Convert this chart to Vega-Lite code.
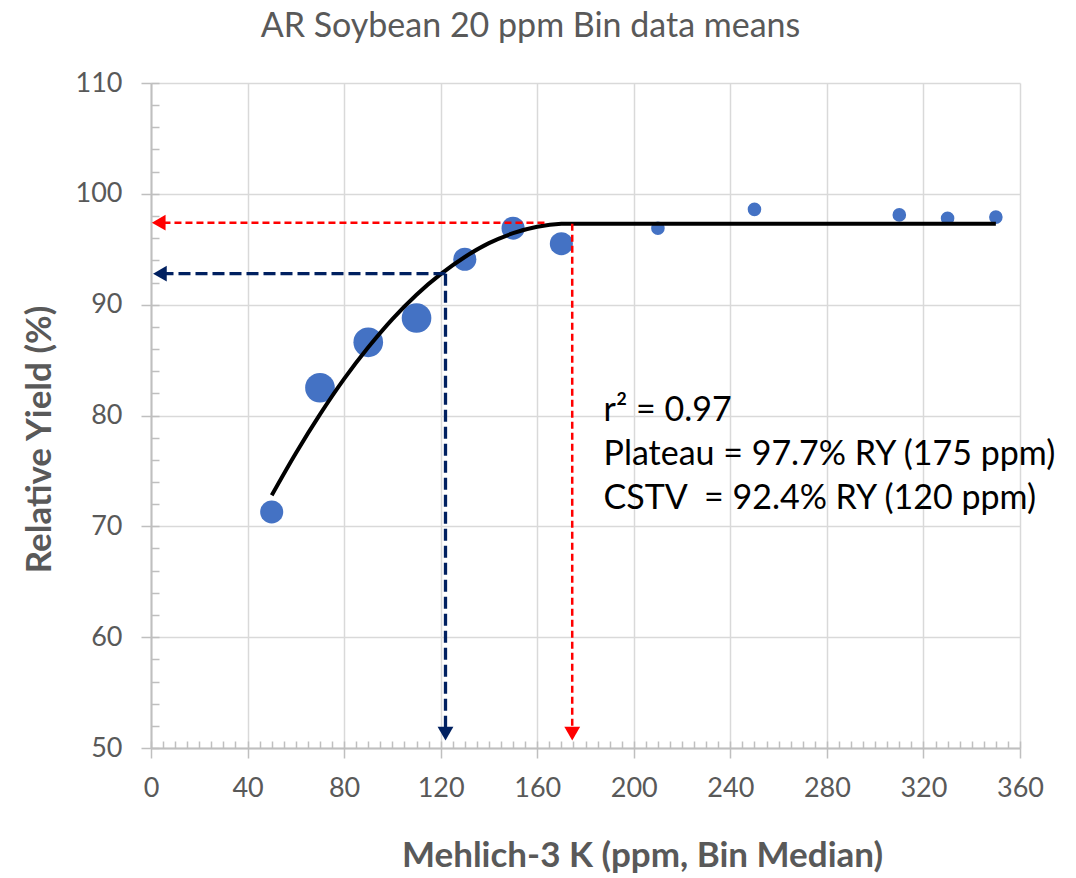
{
  "$schema": "https://vega.github.io/schema/vega-lite/v6.json",
  "width": 869,
  "height": 665,
  "autosize": "none",
  "padding": {"left": 151, "top": 83, "right": 56, "bottom": 130},
  "background": "white",
  "config": {"view": {"stroke": null}, "font": "Lato"},
  "title": {
    "text": "AR Soybean 20 ppm Bin data means",
    "fontSize": 34,
    "font": "Lato",
    "fontWeight": "normal",
    "color": "#595959",
    "anchor": "middle",
    "dx": -55,
    "offset": 25
  },
  "datasets": {
    "points": [
      {"K": 50, "RY": 71.3, "n": 2},
      {"K": 70, "RY": 82.5, "n": 3},
      {"K": 90, "RY": 86.6, "n": 3},
      {"K": 110, "RY": 88.8, "n": 3},
      {"K": 130, "RY": 94.1, "n": 2},
      {"K": 150, "RY": 96.9, "n": 2},
      {"K": 170, "RY": 95.5, "n": 2},
      {"K": 210, "RY": 96.9, "n": 1},
      {"K": 250, "RY": 98.6, "n": 1},
      {"K": 310, "RY": 98.1, "n": 1},
      {"K": 330, "RY": 97.8, "n": 1},
      {"K": 350, "RY": 97.9, "n": 1}
    ],
    "fit": [
      {"K": 50, "RY": 72.8},
      {"K": 60, "RY": 76.6},
      {"K": 70, "RY": 80.1},
      {"K": 80, "RY": 83.3},
      {"K": 90, "RY": 86.15},
      {"K": 100, "RY": 88.7},
      {"K": 110, "RY": 90.9},
      {"K": 120, "RY": 92.75},
      {"K": 130, "RY": 94.3},
      {"K": 140, "RY": 95.55},
      {"K": 150, "RY": 96.45},
      {"K": 160, "RY": 97.03},
      {"K": 170, "RY": 97.29},
      {"K": 173, "RY": 97.3},
      {"K": 350, "RY": 97.3}
    ],
    "redRules": [
      {"x": 163, "x2": 4, "y": 97.4, "y2": 97.4},
      {"x": 174.5, "x2": 174.5, "y": 97.3, "y2": 51.5}
    ],
    "blueRules": [
      {"x": 122, "x2": 5, "y": 92.8, "y2": 92.8},
      {"x": 122, "x2": 122, "y": 92.8, "y2": 51.5}
    ],
    "heads": [
      {"x": 3.2, "y": 97.4, "dir": "left", "g": "plateau"},
      {"x": 174.5, "y": 51.3, "dir": "down", "g": "plateau"},
      {"x": 3.7, "y": 92.8, "dir": "left", "g": "cstv"},
      {"x": 122, "y": 51.3, "dir": "down", "g": "cstv"}
    ],
    "notes": [
      {"K": 187.5, "RY": 80.4, "t": "r² = 0.97"},
      {"K": 187.5, "RY": 76.4, "t": "Plateau = 97.7% RY (175 ppm)"},
      {"K": 187.5, "RY": 72.5, "t": "CSTV\u00a0 = 92.4% RY (120 ppm)"}
    ]
  },
  "resolve": {"axis": {"x": "independent", "y": "independent"}},
  "layer": [
    {
      "data": {"name": "points"},
      "mark": {"type": "circle", "opacity": 1, "color": "#4472C4"},
      "encoding": {
        "x": {
          "field": "K", "type": "quantitative",
          "scale": {"domain": [0, 360], "nice": false, "zero": false},
          "axis": {
            "orient": "bottom",
            "values": [0, 40, 80, 120, 160, 200, 240, 280, 320, 360],
            "grid": true, "gridColor": "#d9d9d9", "gridWidth": 1.5,
            "domainColor": "#bfbfbf", "domainWidth": 2,
            "tickColor": "#bfbfbf", "tickSize": 10, "tickWidth": 1.5,
            "labelFontSize": 27, "labelColor": "#595959", "labelPadding": 17, "labelFont": "Lato",
            "labelFlush": false, "labelOverlap": false,
            "title": "Mehlich-3 K (ppm, Bin Median)",
            "titleFontSize": 35, "titleFontWeight": "bold", "titleColor": "#595959", "titleFont": "Lato",
            "titlePadding": 37, "titleX": 491
          }
        },
        "y": {
          "field": "RY", "type": "quantitative",
          "scale": {"domain": [50, 110], "nice": false, "zero": false},
          "axis": {
            "orient": "left",
            "values": [50, 60, 70, 80, 90, 100, 110],
            "grid": true, "gridColor": "#d9d9d9", "gridWidth": 1.5,
            "domainColor": "#bfbfbf", "domainWidth": 2,
            "tickColor": "#bfbfbf", "tickSize": 10, "tickWidth": 1.5,
            "labelFontSize": 27, "labelColor": "#595959", "labelPadding": 19, "labelFont": "Lato",
            "labelFlush": false, "labelOverlap": false,
            "title": "Relative Yield (%)",
            "titleFontSize": 35, "titleFontWeight": "bold", "titleColor": "#595959", "titleFont": "Lato",
            "titlePadding": 18, "titleY": 356
          }
        },
        "size": {
          "field": "n", "type": "quantitative", "legend": null,
          "scale": {"domain": [1, 3], "range": [185, 880], "zero": false}
        }
      }
    },
    {
      "data": {"name": "fit"},
      "mark": {"type": "line", "color": "black", "strokeWidth": 4, "interpolate": "monotone"},
      "encoding": {
        "x": {
          "field": "K", "type": "quantitative",
          "axis": {
            "orient": "bottom",
            "values": [0,5,10,15,20,25,30,35,40,45,50,55,60,65,70,75,80,85,90,95,100,105,110,115,120,125,130,135,140,145,150,155,160,165,170,175,180,185,190,195,200,205,210,215,220,225,230,235,240,245,250,255,260,265,270,275,280,285,290,295,300,305,310,315,320,325,330,335,340,345,350,355,360],
            "grid": false, "domain": false, "labels": false, "title": null,
            "tickColor": "#bfbfbf", "tickSize": -7, "tickWidth": 1.5
          }
        },
        "y": {
          "field": "RY", "type": "quantitative",
          "axis": {
            "orient": "left",
            "values": [50,52,54,56,58,60,62,64,66,68,70,72,74,76,78,80,82,84,86,88,90,92,94,96,98,100,102,104,106,108,110],
            "grid": false, "domain": false, "labels": false, "title": null,
            "tickColor": "#bfbfbf", "tickSize": -8, "tickWidth": 1.5
          }
        }
      }
    },
    {
      "data": {"name": "redRules"},
      "mark": {"type": "rule", "color": "#FF0000", "strokeWidth": 2.5, "strokeDash": [7, 4]},
      "encoding": {
        "x": {"field": "x", "type": "quantitative", "axis": null},
        "x2": {"field": "x2"},
        "y": {"field": "y", "type": "quantitative", "axis": null},
        "y2": {"field": "y2"}
      }
    },
    {
      "data": {"name": "blueRules"},
      "mark": {"type": "rule", "color": "#002060", "strokeWidth": 3.3, "strokeDash": [12, 5]},
      "encoding": {
        "x": {"field": "x", "type": "quantitative", "axis": null},
        "x2": {"field": "x2"},
        "y": {"field": "y", "type": "quantitative", "axis": null},
        "y2": {"field": "y2"}
      }
    },
    {
      "data": {"name": "heads"},
      "mark": {"type": "point", "filled": true, "opacity": 1, "size": 250},
      "encoding": {
        "x": {"field": "x", "type": "quantitative", "axis": null},
        "y": {"field": "y", "type": "quantitative", "axis": null},
        "shape": {"field": "dir", "type": "nominal", "legend": null,
          "scale": {"domain": ["left", "down"], "range": ["triangle-left", "triangle-down"]}},
        "color": {"field": "g", "type": "nominal", "legend": null,
          "scale": {"domain": ["plateau", "cstv"], "range": ["#FF0000", "#002060"]}}
      }
    },
    {
      "data": {"name": "notes"},
      "mark": {"type": "text", "align": "left", "baseline": "middle", "fontSize": 34, "font": "Lato", "color": "#000000"},
      "encoding": {
        "x": {"field": "K", "type": "quantitative", "axis": null},
        "y": {"field": "RY", "type": "quantitative", "axis": null},
        "text": {"field": "t"}
      }
    }
  ]
}
